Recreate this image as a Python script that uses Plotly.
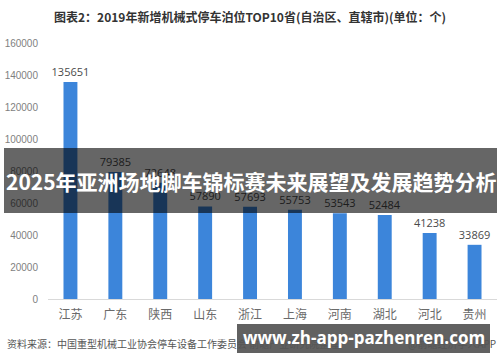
import plotly.graph_objects as go

categories = ["江苏", "广东", "陕西", "山东", "浙江", "上海", "河南", "湖北", "河北", "贵州"]
values = [135651, 79385, 72648, 57890, 57693, 55753, 53543, 52484, 41238, 33869]
y_ticks = [0, 20000, 40000, 60000, 80000, 100000, 120000, 140000, 160000]

title_text = "图表2：2019年新增机械式停车泊位TOP10省(自治区、直辖市)(单位：个)"
source_text = "资料来源：中国重型机械工业协会停车设备工作委员会 前瞻产业研究院整理"
app_text = "@前瞻经济学人APP"
banner_text = "2025年亚洲场地脚车锦标赛未来展望及发展趋势分析"
url_text = "www.zh-app-pazhenren.com"

W, H = 500, 362
ML, MR, MT, MB = 48, 3, 43, 63
PW, PH = W - ML - MR, H - MT - MB

def px(x):
    return (x - ML) / PW

def py(y):
    return (H - MB - y) / PH

CJK = "Noto Sans CJK SC"

fig = go.Figure()
fig.add_trace(go.Bar(
    x=categories, y=values,
    marker=dict(color="#3c85da", line=dict(width=0)),
    width=0.31,
    text=[str(v) for v in values],
    textposition="outside",
    constraintext="none",
    textfont=dict(family="Open Sans", size=11, color="#4a4a4a"),
    cliponaxis=False,
))

fig.update_layout(
    width=W, height=H,
    margin=dict(l=ML, r=MR, t=MT, b=MB),
    paper_bgcolor="white", plot_bgcolor="white",
    showlegend=False,
    bargap=0.69,
    xaxis=dict(
        showgrid=False, showline=True, linecolor="#d9d9d9", linewidth=1,
        ticks="", tickfont=dict(family=CJK, size=12, color="#6a6a6a"),
        ticklabelstandoff=5,
    ),
    yaxis=dict(
        range=[0, 160000], tickvals=y_ticks, ticktext=[str(v) for v in y_ticks],
        showgrid=False, zeroline=False, showline=False, ticks="",
        tickfont=dict(family="Liberation Sans", size=10, color="#7f7f7f"),
        ticklabelstandoff=9,
    ),
    shapes=[
        dict(type="rect", xref="paper", yref="paper", layer="above",
             x0=px(4), x1=px(497), y0=py(213), y1=py(148),
             fillcolor="rgba(0,0,0,0.6)", line=dict(width=0)),
        dict(type="rect", xref="paper", yref="paper", layer="above",
             x0=px(237), x1=px(490), y0=py(353), y1=py(324),
             fillcolor="rgba(0,0,0,0.62)", line=dict(width=0)),
    ],
    annotations=[
        dict(text="<b>" + title_text + "</b>", xref="paper", yref="paper",
             x=px(250), y=py(16), xanchor="center", yanchor="middle", showarrow=False,
             font=dict(family=CJK, size=12, color="#333333")),
        dict(text=source_text, xref="paper", yref="paper",
             x=px(5), y=py(343), xanchor="left", yanchor="middle", showarrow=False,
             font=dict(family=CJK, size=10, color="#555555")),
        dict(text=app_text, xref="paper", yref="paper",
             x=px(498), y=py(343), xanchor="right", yanchor="middle", showarrow=False,
             font=dict(family=CJK, size=10, color="#555555")),
        dict(text="<b>" + banner_text + "</b>", xref="paper", yref="paper",
             x=px(251), y=py(181), xanchor="center", yanchor="middle", showarrow=False,
             font=dict(family=CJK, size=21, color="white")),
        dict(text="<b>" + url_text + "</b>", xref="paper", yref="paper",
             x=px(364), y=py(337), xanchor="center", yanchor="middle", showarrow=False,
             font=dict(family="Open Sans", size=17, color="white")),
    ],
)

fig.write_html("out.html")
